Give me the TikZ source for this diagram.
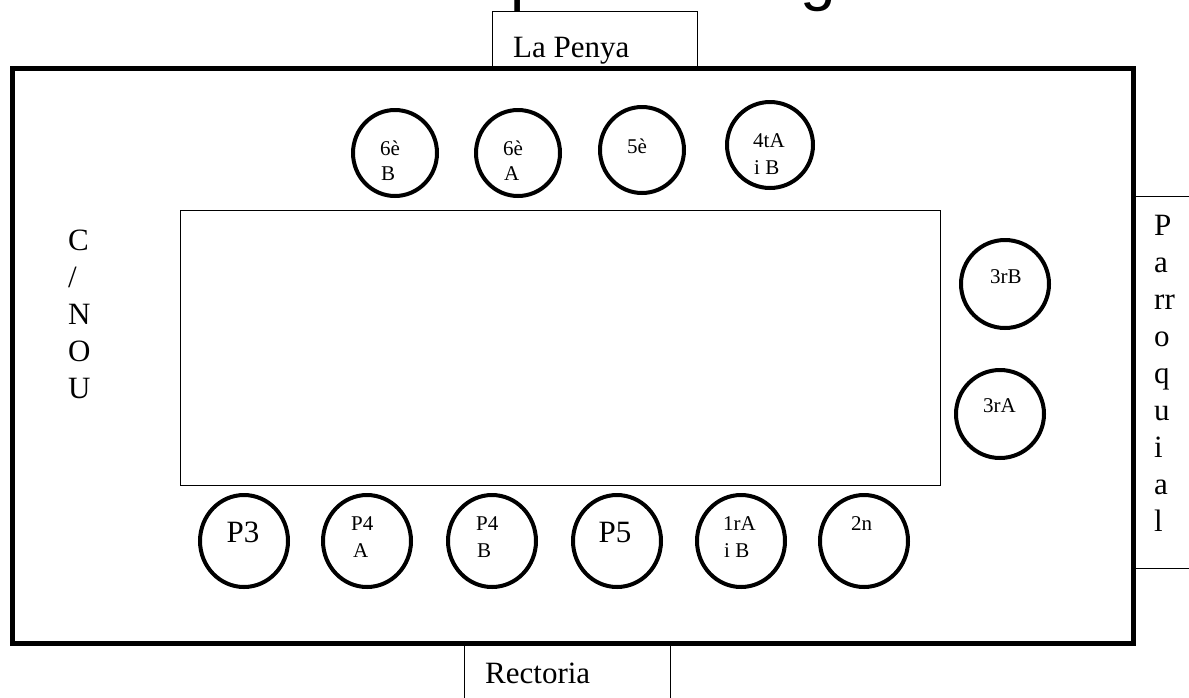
\documentclass[tikz,border=0pt]{standalone}
\usepackage{fontspec}
\setmainfont{Liberation Serif}
\newfontfamily\titlefont{Liberation Sans}
\usetikzlibrary{shapes.geometric}
\begin{document}
\begin{tikzpicture}[x=1pt,y=-1pt,
  frame/.style={draw, line width=5pt, inner sep=0pt},
  thinbox/.style={draw, line width=1pt, inner sep=0pt},
  room/.style={draw, ellipse, line width=4pt, inner sep=0pt},
  big/.style={font=\fontsize{31}{37}\selectfont, inner sep=0pt},
  bigl/.style={big, anchor=base west},
  small/.style={font=\fontsize{21}{25}\selectfont, inner sep=0pt, anchor=base west},
  titlefrag/.style={font=\titlefont\fontsize{64}{70}\selectfont, inner sep=0pt, anchor=base west}]
\useasboundingbox (0,0) rectangle (1189,697);
% title fragments (cut off at the top edge)
\begin{scope}
  \clip (0,0) rectangle (1189,14);
  \node[titlefrag] (tp) at (510,-1.5) {p};
  \node[titlefrag] (tg) at (800,-1.5) {g};
\end{scope}
% side boxes
\node[thinbox, minimum width=205pt, minimum height=57pt] (penyabox) at (594.5,39.5) {};
\node[bigl] (penya) at (513,57) {La Penya};
\node[thinbox, minimum width=206pt, minimum height=60pt] (rectbox) at (567,673) {};
\node[bigl] (rect) at (485,683) {Rectoria};
\node[thinbox, minimum width=80pt, minimum height=372pt] (parrbox) at (1173,382) {};
% outer yard
\node[frame, minimum width=1121pt, minimum height=575pt] (yard) at (572.5,355.5) {};
% inner rectangle
\node[thinbox, minimum width=760pt, minimum height=275pt] (court) at (560,347.5) {};
% C/NOU
\foreach \t [count=\i from 0] in {C,/,N,O,U}
  \node[bigl] (cnou\i) at (68,{250+37*\i}) {\t};
% Parroquial
\foreach \t [count=\i from 0] in {P,a,rr,o,q,u,i,a,l}
  \node[bigl] (parr\i) at (1154,{235+37*\i}) {\t};
% top rooms
\node[room, minimum width=84pt, minimum height=86pt] (c6B) at (395,153) {};
\node[small] (t6B) at (380,155) {6è};
\node[small] (u6B) at (381,180) {B};
\node[room, minimum width=84pt, minimum height=86pt] (c6A) at (518,153) {};
\node[small] (t6A) at (503,155) {6è};
\node[small] (u6A) at (504,180) {A};
\node[room, minimum width=84pt, minimum height=86pt] (c5) at (642,150) {};
\node[small] (t5) at (627,153) {5è};
\node[room, minimum width=86pt, minimum height=86pt] (c4) at (770,145) {};
\node[small] (t4) at (753,147) {4tA};
\node[small] (u4) at (754,174) {i B};
% right rooms
\node[room, minimum width=88pt, minimum height=88pt] (c3B) at (1005,284) {};
\node[small] (t3B) at (990,283) {3rB};
\node[room, minimum width=88pt, minimum height=88pt] (c3A) at (1000,414) {};
\node[small] (t3A) at (983,412) {3rA};
% bottom rooms
\node[room, minimum width=88pt, minimum height=92pt] (cP3) at (244,541) {};
\node[big] (tP3) at (243,532) {P3};
\node[room, minimum width=88pt, minimum height=92pt] (cP4A) at (367,541) {};
\node[small] (tP4A) at (351,530) {P4};
\node[small] (uP4A) at (353,557) {A};
\node[room, minimum width=88pt, minimum height=92pt] (cP4B) at (492,541) {};
\node[small] (tP4B) at (476,530) {P4};
\node[small] (uP4B) at (477,557) {B};
\node[room, minimum width=88pt, minimum height=92pt] (cP5) at (617,541) {};
\node[big] (tP5) at (615,532) {P5};
\node[room, minimum width=88pt, minimum height=92pt] (c1) at (741,541) {};
\node[small] (t1) at (723,530) {1rA};
\node[small] (u1) at (724,557) {i B};
\node[room, minimum width=88pt, minimum height=92pt] (c2) at (864,541) {};
\node[small] (t2) at (851,530) {2n};
\end{tikzpicture}
\end{document}
